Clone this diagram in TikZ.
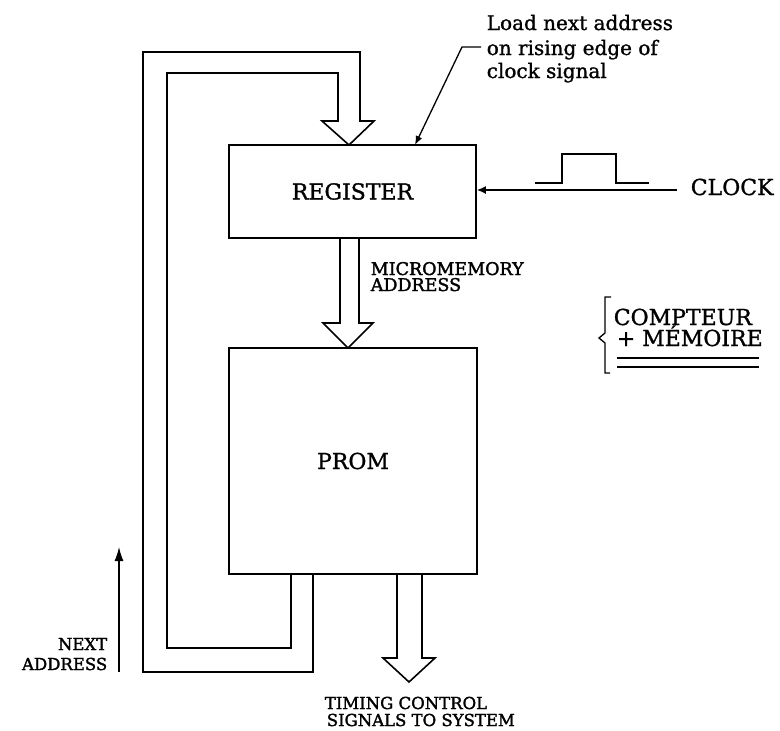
\documentclass[tikz,border=0pt]{standalone}
\usepackage{fontspec}
\setmainfont{DejaVu Serif}[FakeBold=1.2]
\newfontfamily\labfont{DejaVu Serif}[FakeBold=1.8]
\usetikzlibrary{arrows.meta}
\begin{document}
\begin{tikzpicture}[x=1pt,y=-1pt, line width=1.6pt, line join=miter,
  box/.style={draw, line width=1.6pt, inner sep=0pt},
  big/.style={font=\fontsize{22}{24}\selectfont},
  lab/.style={font=\labfont\fontsize{16.5}{18}\selectfont, inner sep=0pt},
  note/.style={font=\fontsize{20}{24}\selectfont, inner sep=0pt},
  comp/.style={font=\fontsize{22}{24}\selectfont, inner sep=0pt},
  thinline/.style={line width=1.3pt},
]
\useasboundingbox (0,0) rectangle (780,731);

% boxes
\node[box, big, minimum width=247pt, minimum height=93pt] (reg) at (352.5,191.5) {REGISTER};
\node[box, big, minimum width=248pt, minimum height=226pt] (prom) at (353,461) {PROM};

% feedback loop hollow arrow (from PROM bottom back to REGISTER top)
\draw (313,574) -- (313,672) -- (143,672) -- (143,52) -- (360,52) -- (360,121)
  -- (374,121) -- (349,145) -- (322,121) -- (338,121) -- (338,73) -- (167,73)
  -- (167,648) -- (291,648) -- (291,574);

% micromemory address hollow arrow
\draw (340,238) -- (340,323) -- (323,323) -- (348,348) -- (373,323) -- (359,323) -- (359,238);

% output hollow arrow
\draw (397,574) -- (397,658) -- (383,658) -- (409,682) -- (435,658) -- (422,658) -- (422,574);

% clock
\node[big, anchor=base west, inner sep=0pt] (clk) at (690,195) {CLOCK};
\coordinate (clkin) at (677,190);
\draw[-{Latex[length=9pt,width=8pt]}] (clkin) -- (reg.east |- clkin);
\draw[thinline] (535,183) -- (562,183) -- (562,154) -- (616,154) -- (616,183) -- (649,183);

% annotation
\node[note, anchor=base west] (n1) at (486,30) {Load next address};
\node[note, anchor=base west] (n2) at (486,55) {on rising edge of};
\node[note, anchor=base west] (n3) at (486,78) {clock signal};
\coordinate (lead) at (481,47);
\coordinate (regtop) at (415,145);
\draw[thinline, -{Latex[length=9pt,width=7pt]}] (lead) -- (462,47) -- (regtop);

% micromemory label
\node[lab, font=\labfont\fontsize{17.5}{18}\selectfont, anchor=base west] (m1) at (370,275) {MICROMEMORY};
\node[lab, font=\labfont\fontsize{17.5}{18}\selectfont, anchor=base west] (m2) at (370,291) {ADDRESS};

% next address
\coordinate (na0) at (119,672);
\coordinate (na1) at (119,547);
\draw[thinline, -{Latex[length=14pt,width=9pt]}] (na0) -- (na1);
\node[lab, anchor=base east] (x1) at (108,650) {NEXT};
\node[lab, anchor=base east] (x2) at (108,670) {ADDRESS};

% timing control
\node[lab, anchor=base west] (t1) at (324,709) {TIMING CONTROL};
\node[lab, anchor=base west] (t2) at (326,726) {SIGNALS TO SYSTEM};

% compteur + memoire
\node[comp, anchor=base west] (c1) at (613,325) {COMPTEUR};
\node[comp, anchor=base west] (c2) at (616,346) {+ MÉMOIRE};
\draw[thinline] (617,358) -- (759,358);
\draw[thinline] (617,367) -- (759,367);
\draw[thinline] (611,297) -- (605,297) -- (605,333) -- (599,338) -- (605,343) -- (605,373) -- (610,373);
\end{tikzpicture}
\end{document}
